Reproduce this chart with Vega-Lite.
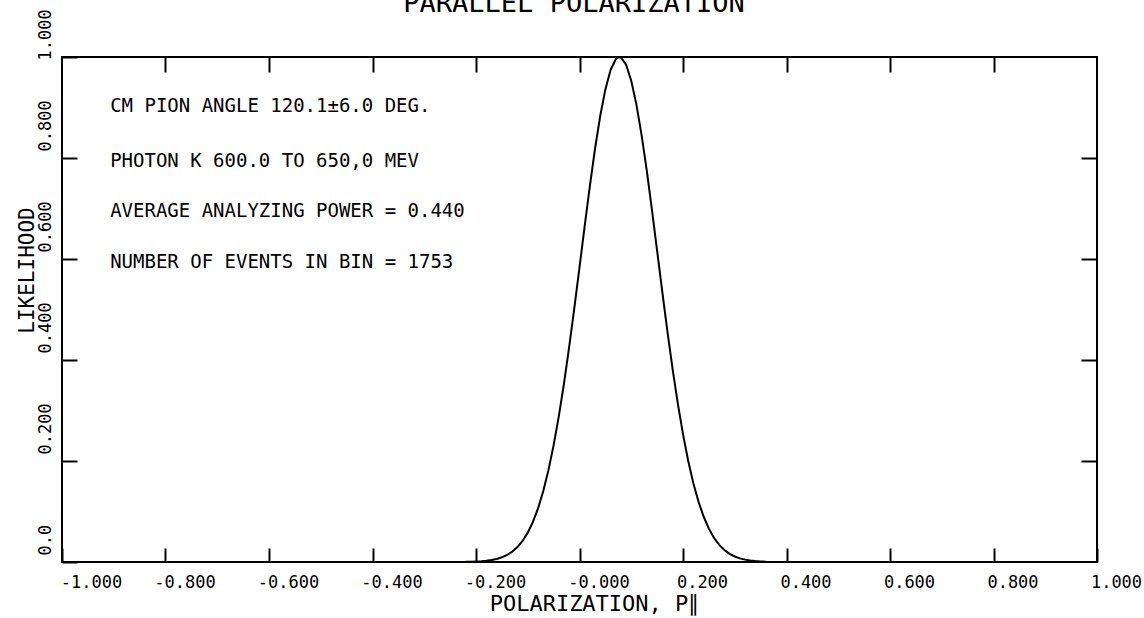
{
  "$schema": "https://vega.github.io/schema/vega-lite/v6.json",
  "width": 1035,
  "height": 505,
  "autosize": {"type": "none"},
  "padding": {"left": 62, "top": 57, "right": 47, "bottom": 56},
  "background": "white",
  "datasets": {
    "curve": [
      {"p": -0.22, "L": 0.000332},
      {"p": -0.21, "L": 0.000564},
      {"p": -0.20, "L": 0.000941},
      {"p": -0.19, "L": 0.001543},
      {"p": -0.18, "L": 0.002484},
      {"p": -0.17, "L": 0.003925},
      {"p": -0.16, "L": 0.006091},
      {"p": -0.15, "L": 0.009283},
      {"p": -0.14, "L": 0.01389},
      {"p": -0.13, "L": 0.02042},
      {"p": -0.12, "L": 0.02947},
      {"p": -0.11, "L": 0.04176},
      {"p": -0.10, "L": 0.05812},
      {"p": -0.09, "L": 0.07943},
      {"p": -0.08, "L": 0.1066},
      {"p": -0.07, "L": 0.1405},
      {"p": -0.06, "L": 0.1819},
      {"p": -0.05, "L": 0.2311},
      {"p": -0.04, "L": 0.2885},
      {"p": -0.03, "L": 0.3535},
      {"p": -0.02, "L": 0.4255},
      {"p": -0.01, "L": 0.5029},
      {"p": 0.00, "L": 0.5836},
      {"p": 0.01, "L": 0.6652},
      {"p": 0.02, "L": 0.7445},
      {"p": 0.03, "L": 0.8183},
      {"p": 0.04, "L": 0.8831},
      {"p": 0.05, "L": 0.9359},
      {"p": 0.06, "L": 0.9741},
      {"p": 0.07, "L": 0.9956},
      {"p": 0.077, "L": 1.0},
      {"p": 0.08, "L": 0.9992},
      {"p": 0.09, "L": 0.9848},
      {"p": 0.10, "L": 0.9531},
      {"p": 0.11, "L": 0.9058},
      {"p": 0.12, "L": 0.8454},
      {"p": 0.13, "L": 0.7748},
      {"p": 0.14, "L": 0.6974},
      {"p": 0.15, "L": 0.6163},
      {"p": 0.16, "L": 0.5350},
      {"p": 0.17, "L": 0.4559},
      {"p": 0.18, "L": 0.3816},
      {"p": 0.19, "L": 0.3136},
      {"p": 0.20, "L": 0.2531},
      {"p": 0.21, "L": 0.2006},
      {"p": 0.22, "L": 0.1561},
      {"p": 0.23, "L": 0.1193},
      {"p": 0.24, "L": 0.08957},
      {"p": 0.25, "L": 0.06601},
      {"p": 0.26, "L": 0.04777},
      {"p": 0.27, "L": 0.03395},
      {"p": 0.28, "L": 0.02370},
      {"p": 0.29, "L": 0.01624},
      {"p": 0.30, "L": 0.01093},
      {"p": 0.31, "L": 0.00722},
      {"p": 0.32, "L": 0.00469},
      {"p": 0.33, "L": 0.00299},
      {"p": 0.34, "L": 0.00187},
      {"p": 0.35, "L": 0.00115},
      {"p": 0.36, "L": 0.00069}
    ],
    "notes": [
      {"tx": -0.907, "ty": 0.891, "label": "CM PION ANGLE 120.1±6.0 DEG."},
      {"tx": -0.907, "ty": 0.782, "label": "PHOTON K 600.0 TO 650,0 MEV"},
      {"tx": -0.907, "ty": 0.683, "label": "AVERAGE ANALYZING POWER = 0.440"},
      {"tx": -0.907, "ty": 0.582, "label": "NUMBER OF EVENTS IN BIN = 1753"}
    ],
    "heading": [
      {"label": "PARALLEL POLARIZATION"}
    ]
  },
  "config": {
    "view": {"stroke": "black", "strokeWidth": 2},
    "axis": {
      "grid": false,
      "domain": false,
      "tickColor": "black",
      "tickWidth": 2,
      "labelColor": "black",
      "labelFont": "DejaVu Sans Mono",
      "labelFontSize": 17,
      "titleColor": "black",
      "titleFont": "DejaVu Sans Mono",
      "titleFontWeight": "normal",
      "labelOverlap": false,
      "labelFlush": false,
      "labelBound": false
    }
  },
  "layer": [
    {
      "data": {"name": "curve"},
      "mark": {"type": "line", "color": "black", "strokeWidth": 2, "clip": true},
      "encoding": {
        "x": {
          "field": "p",
          "type": "quantitative",
          "scale": {"domain": [-1, 1], "nice": false, "zero": false},
          "axis": {
            "orient": "bottom",
            "values": [-1, -0.8, -0.6, -0.4, -0.2, 0, 0.2, 0.4, 0.6, 0.8, 1],
            "labelExpr": "datum.value == 0 ? '-0.000' : (datum.value < 0 ? '-' + format(-datum.value, '.3f') : format(datum.value, '.3f'))",
            "tickSize": -14,
            "labelPadding": 39,
            "labelBaseline": "alphabetic",
            "labelAlign": "center",
            "labelOffset": {"condition": {"test": "datum.value == -1", "value": 29}, "value": 19},
            "title": "POLARIZATION, P∥",
            "titleFontSize": 22,
            "titleAlign": "center",
            "titleBaseline": "alphabetic",
            "titleX": 532,
            "titleY": 48
          }
        },
        "y": {
          "field": "L",
          "type": "quantitative",
          "scale": {"domain": [0, 1], "nice": false, "zero": false},
          "axis": {
            "orient": "left",
            "values": [0, 0.2, 0.4, 0.6, 0.8, 1],
            "labelExpr": "datum.value == 0 ? '0.0' : format(datum.value, '.3f')",
            "tickSize": -15,
            "labelPadding": 32,
            "labelAngle": 270,
            "labelAlign": "left",
            "labelBaseline": "middle",
            "labelOffset": {"condition": {"test": "datum.value == 1", "value": 3}, "value": -7},
            "title": "LIKELIHOOD",
            "titleFontSize": 21,
            "titleAngle": 270,
            "titleAlign": "center",
            "titleBaseline": "middle",
            "titleX": -35,
            "titleY": 213
          }
        }
      }
    },
    {
      "data": {"name": "curve"},
      "mark": {"type": "point", "opacity": 0},
      "encoding": {
        "x": {
          "field": "p",
          "type": "quantitative",
          "axis": {
            "orient": "top",
            "values": [-0.8, -0.6, -0.4, -0.2, 0, 0.2, 0.4, 0.6, 0.8],
            "labels": false,
            "tickSize": -15,
            "title": null
          }
        },
        "y": {
          "field": "L",
          "type": "quantitative",
          "axis": {
            "orient": "right",
            "values": [0.2, 0.4, 0.6, 0.8],
            "labels": false,
            "tickSize": -16,
            "title": null
          }
        }
      }
    },
    {
      "data": {"name": "notes"},
      "mark": {
        "type": "text",
        "align": "left",
        "baseline": "alphabetic",
        "font": "DejaVu Sans Mono",
        "fontSize": 19,
        "color": "black"
      },
      "encoding": {
        "x": {"field": "tx", "type": "quantitative", "axis": null},
        "y": {"field": "ty", "type": "quantitative", "axis": null},
        "text": {"field": "label"}
      }
    },
    {
      "data": {"name": "heading"},
      "mark": {
        "type": "text",
        "align": "center",
        "baseline": "alphabetic",
        "font": "DejaVu Sans Mono",
        "fontSize": 27,
        "color": "black",
        "clip": false
      },
      "encoding": {
        "x": {"datum": -0.0106, "type": "quantitative", "axis": null},
        "y": {"datum": 1.0891, "type": "quantitative", "axis": null},
        "text": {"field": "label"}
      }
    }
  ],
  "resolve": {"axis": {"x": "independent", "y": "independent"}}
}
